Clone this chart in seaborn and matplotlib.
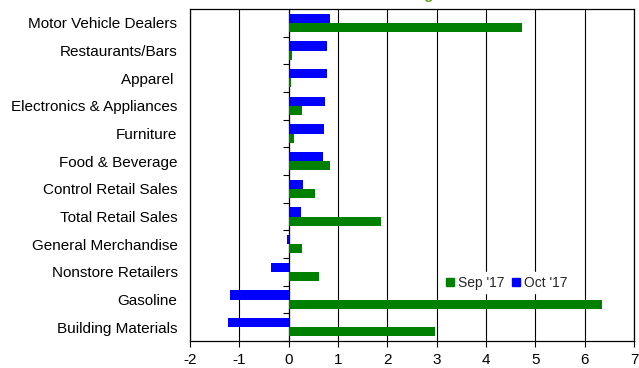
import matplotlib
matplotlib.use("Agg")
import matplotlib.pyplot as plt
import seaborn as sns
import pandas as pd
from matplotlib.patches import Patch

categories = ["Motor Vehicle Dealers", "Restaurants/Bars", "Apparel ", "Electronics & Appliances",
              "Furniture", "Food & Beverage", "Control Retail Sales", "Total Retail Sales",
              "General Merchandise", "Nonstore Retailers", "Gasoline", "Building Materials"]
oct17 = [0.83, 0.77, 0.77, 0.73, 0.71, 0.69, 0.30, 0.24, -0.03, -0.35, -1.18, -1.23]
sep17 = [4.73, 0.07, 0.05, 0.28, 0.10, 0.83, 0.53, 1.88, 0.28, 0.61, 6.36, 2.96]
series_names = ["Oct '17", "Sep '17"]
xticks = [-2, -1, 0, 1, 2, 3, 4, 5, 6, 7]

df = pd.DataFrame({
    "category": categories * 2,
    "value": oct17 + sep17,
    "series": [series_names[0]] * len(categories) + [series_names[1]] * len(categories),
})

sns.set_theme(style="white")
plt.rcParams["font.family"] = ["Liberation Sans", "DejaVu Sans"]
FS = 11

fig = plt.figure(figsize=(6.39, 3.68), dpi=100)
ax = fig.add_axes([190 / 639, 1 - 341 / 368, (634 - 190) / 639, (341 - 9) / 368])

palette = {"Oct '17": "#0000ff", "Sep '17": "#008000"}
sns.barplot(data=df, y="category", x="value", hue="series", hue_order=series_names,
            order=categories, palette=palette, orient="h", width=0.66, gap=0,
            saturation=1, linewidth=0, legend=False, ax=ax)

ax.set_xlim(-2, 7)
ax.set_ylim(len(categories) - 0.5, -0.5)
ax.set_xticks(xticks)
ax.set_xticklabels([str(t) for t in xticks], fontsize=FS, color="black")
ax.set_yticks(range(len(categories)))
ax.set_yticklabels(categories, fontsize=FS, color="black")
ax.tick_params(axis="y", length=0, pad=9)
ax.tick_params(axis="x", length=4, width=0.8, color="black", direction="out", bottom=True, pad=5)
ax.set_xlabel("")
ax.set_ylabel("")
ax.xaxis.grid(True, color="black", linewidth=0.8)
ax.yaxis.grid(False)
ax.set_axisbelow(True)
for s in ax.spines.values():
    s.set_color("black")
    s.set_linewidth(0.9)

# zero axis with category-boundary ticks
sec = ax.secondary_yaxis(2 / 9)
sec.set_yticks([i + 0.5 for i in range(len(categories))])
sec.set_yticklabels([])
sec.tick_params(axis="y", length=4, width=0.8, color="black", direction="out")
sec.spines["left"].set_color("#444444")
sec.spines["left"].set_linewidth(0.9)

handles = [Patch(color=palette["Sep '17"]), Patch(color=palette["Oct '17"])]
leg = ax.legend(handles, ["Sep '17", "Oct '17"], loc="center", bbox_to_anchor=(0.713, 0.175),
                ncol=2, frameon=True, fontsize=10, handlelength=0.6, handleheight=0.6,
                handletextpad=0.3, columnspacing=0.5, borderpad=0.25, fancybox=False)
leg.get_frame().set_facecolor("white")
leg.get_frame().set_edgecolor("white")
leg.get_frame().set_alpha(1)

fig.text(405 / 639, 1.0 + 0.014, "% Change", ha="center", va="center", fontsize=11,
         color="#6aa121", fontweight="bold")

fig.savefig("out.png", dpi=100)
